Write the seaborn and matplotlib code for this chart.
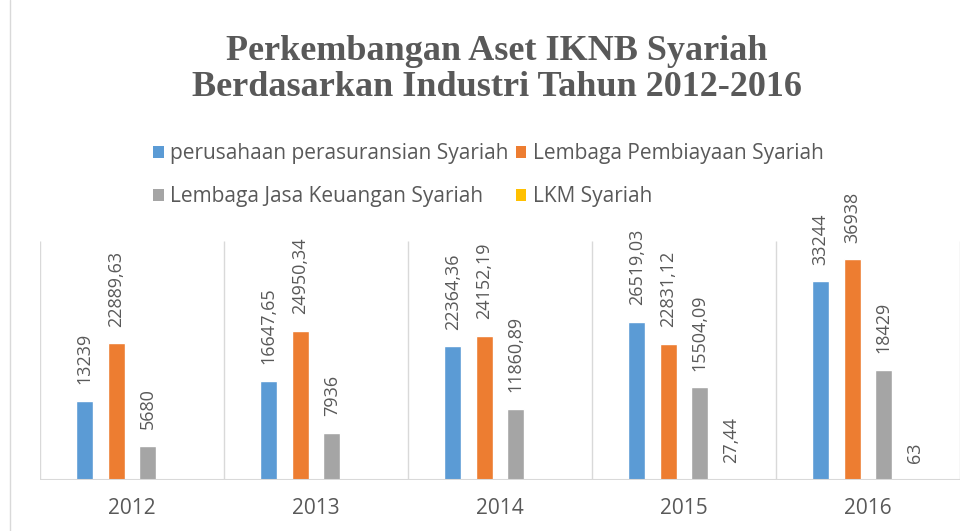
import numpy as np
import pandas as pd
import matplotlib
matplotlib.use("Agg")
import matplotlib.pyplot as plt
import seaborn as sns
from matplotlib.patches import Patch
from matplotlib.lines import Line2D

# data
tahun = ["2012", "2013", "2014", "2015", "2016"]
asuransi = [13239, 16647.65, 22364.36, 26519.03, 33244]
pembiayaan = [22889.63, 24950.34, 24152.19, 22831.12, 36938]
jasa_keuangan = [5680, 7936, 11860.89, 15504.09, 18429]
lkm = [np.nan, np.nan, np.nan, 27.44, 63]

seri = ["perusahaan perasuransian Syariah", "Lembaga Pembiayaan Syariah",
        "Lembaga Jasa Keuangan Syariah", "LKM Syariah"]
warna = ["#5B9BD5", "#ED7D31", "#A5A5A5", "#FFC000"]

df = pd.DataFrame({
    "Tahun": tahun * 4,
    "Industri": [s for s in seri for _ in tahun],
    "Nilai": asuransi + pembiayaan + jasa_keuangan + lkm,
})

sns.set_style("white")
plt.rcParams['font.family'] = ['Open Sans', 'DejaVu Sans']
abu = "#595959"

fig = plt.figure(figsize=(9.8, 5.31), dpi=100)
ax = fig.add_axes([40/980, 51/531, 920/980, 239/531])

sns.barplot(data=df, x="Tahun", y="Nilai", hue="Industri", hue_order=seri,
            order=tahun, palette=warna, saturation=1, width=0.685, gap=0.47,
            legend=False, ax=ax)

ax.set_xlim(-0.5, 4.5)
ax.set_ylim(0, 40000)
ax.vlines(np.arange(-0.5, 5, 1), 0, 40000, color="#d9d9d9", lw=1, zorder=0)
ax.axhline(0, color="#d9d9d9", lw=1.5, zorder=1)
for s in ax.spines.values():
    s.set_visible(False)
ax.set_yticks([])
ax.set_xlabel("")
ax.set_ylabel("")
ax.tick_params(axis="x", length=0, pad=13, labelsize=15, labelcolor=abu)

# data labels
def fmt(v):
    if float(v).is_integer():
        return str(int(v))
    return f"{v:.2f}".replace(".", ",")

for cont in ax.containers:
    for bar in cont:
        h = bar.get_height()
        if np.isnan(h):
            continue
        ax.annotate(fmt(h), (bar.get_x() + bar.get_width() / 2, h),
                    xytext=(0, 12), textcoords="offset points",
                    rotation=90, ha="center", va="bottom",
                    fontsize=13, color=abu)

# legend, two rows
handles = [Patch(facecolor=c, edgecolor="none") for c in warna]
urut = [0, 2, 1, 3]
fig.legend([handles[i] for i in urut], [seri[i] for i in urut], ncol=2,
           loc="upper left", bbox_to_anchor=(143/980, 1 - 133/531),
           frameon=False, fontsize=15, labelcolor=abu, borderpad=0,
           handlelength=0.5, handleheight=0.5, handletextpad=0.3,
           columnspacing=0.35, labelspacing=1.05)

fig.text(0.507, 1 - 52/531, "Perkembangan Aset IKNB Syariah",
         ha="center", va="center", fontsize=26, fontweight="bold",
         family="Liberation Serif", color=abu)
fig.text(0.507, 1 - 88/531, "Berdasarkan Industri Tahun 2012-2016",
         ha="center", va="center", fontsize=26, fontweight="bold",
         family="Liberation Serif", color=abu)

fig.add_artist(Line2D([10/980, 10/980], [0, 1], transform=fig.transFigure,
                      color="#d9d9d9", lw=1))

fig.savefig("out.png", dpi=100)
